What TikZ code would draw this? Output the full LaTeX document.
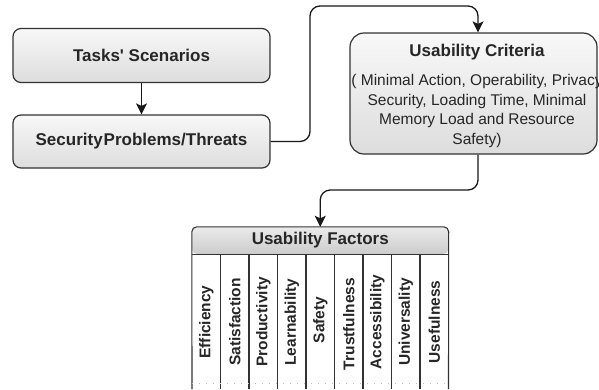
\documentclass[tikz,border=0pt]{standalone}
\usepackage{fontspec}
\setmainfont{Liberation Sans}
\usetikzlibrary{arrows.meta}
\definecolor{txt}{HTML}{262626}
\definecolor{edge}{HTML}{333333}
\definecolor{shtop}{HTML}{F8F8F8}
\definecolor{shbot}{HTML}{DDDDDD}
\newcommand\ttlfont{\fontsize{17}{20}\selectfont\bfseries}
\newcommand\bodyfont{\fontsize{15.5}{19.5}\selectfont}
\newcommand\colfont{\fontsize{15.5}{18}\selectfont\bfseries}
\tikzset{
  box/.style={draw=edge, line width=1.2pt, rounded corners=8pt, top color=shtop, bottom color=shbot,
    minimum width=257pt, minimum height=54pt, font=\ttlfont, text=txt, inner sep=0pt},
  conn/.style={draw=black!90, line width=1.3pt, rounded corners=10pt, -{Stealth[length=11pt,width=11pt,inset=2.5pt]}},
  colhead/.style={font=\colfont, text=txt, rotate=90, inner sep=0pt},
  tline/.style={draw=edge, line width=1.1pt},
}
\begin{document}
\begin{tikzpicture}[x=1pt,y=-1pt]
\useasboundingbox (0,0) rectangle (599,389);
\fill[white] (0,0) rectangle (599,389);

\node[box] (task) at (141.5,55.5) {Tasks\textquotesingle\ Scenarios};
\node[box, minimum height=53pt] (sec) at (141.5,141.5) {Security\kern1pt Problems/Threats};
\node[box, rounded corners=14pt, minimum width=247pt, minimum height=121pt] (crit) at (473.5,93.5) {};
\node[font=\ttlfont, text=txt, inner sep=0pt] (crittitle) at (477,52) {Usability Criteria};
\node[font=\bodyfont, text=txt, align=center, inner sep=0pt] (crittext) at (477,111)
  {( Minimal Action, Operability, Privacy\\Security, Loading Time, Minimal\\Memory Load and Resource\\Safety)};

\coordinate (xa) at (478,0);

% table header
\path[top color=shtop!50!shbot, bottom color=shbot!92!black, rounded corners=5pt]
  (192,254) -- (192,227) -- (448.5,227) -- (448.5,254) -- cycle;
\node[font=\ttlfont, text=txt, minimum width=256.5pt, minimum height=27pt, inner sep=0pt] (hdr) at (320.25,240.5) {Usability Factors};
\draw[tline, rounded corners=5pt] (192,389) -- (hdr.north west) -- (hdr.north east) -- (448.5,389);
\draw[tline] (hdr.south west) -- (hdr.south east);
\foreach \i in {1,...,8} {
  \draw[tline] (192+28.5*\i,254) -- (192+28.5*\i,389);
}
\draw[black!25, line width=0.8pt, dash pattern=on 1pt off 6pt] (192,383) -- (448.5,383);

\node[colhead] (c1) at (206.25,322) {Efficiency};
\node[colhead] (c2) at (234.75,322) {Satisfaction};
\node[colhead] (c3) at (263.25,322) {Productivity};
\node[colhead] (c4) at (291.75,322) {Learnability};
\node[colhead] (c5) at (320.25,320) {Safety};
\node[colhead] (c6) at (348.75,324) {Trustfulness};
\node[colhead] (c7) at (377.25,322) {Accessibility};
\node[colhead] (c8) at (405.75,322) {Universality};
\node[colhead] (c9) at (434.25,322) {Usefulness};

% connectors
\draw[conn] (task.south) -- (sec.north);
\draw[conn] (sec.east) -- (310,141.5) -- (310,6) -- (478,6) -- (crit.north -| xa);
\draw[conn] (crit.south -| xa) -- (478,190) -- (320.25,190) -- (hdr.north);
\end{tikzpicture}
\end{document}
